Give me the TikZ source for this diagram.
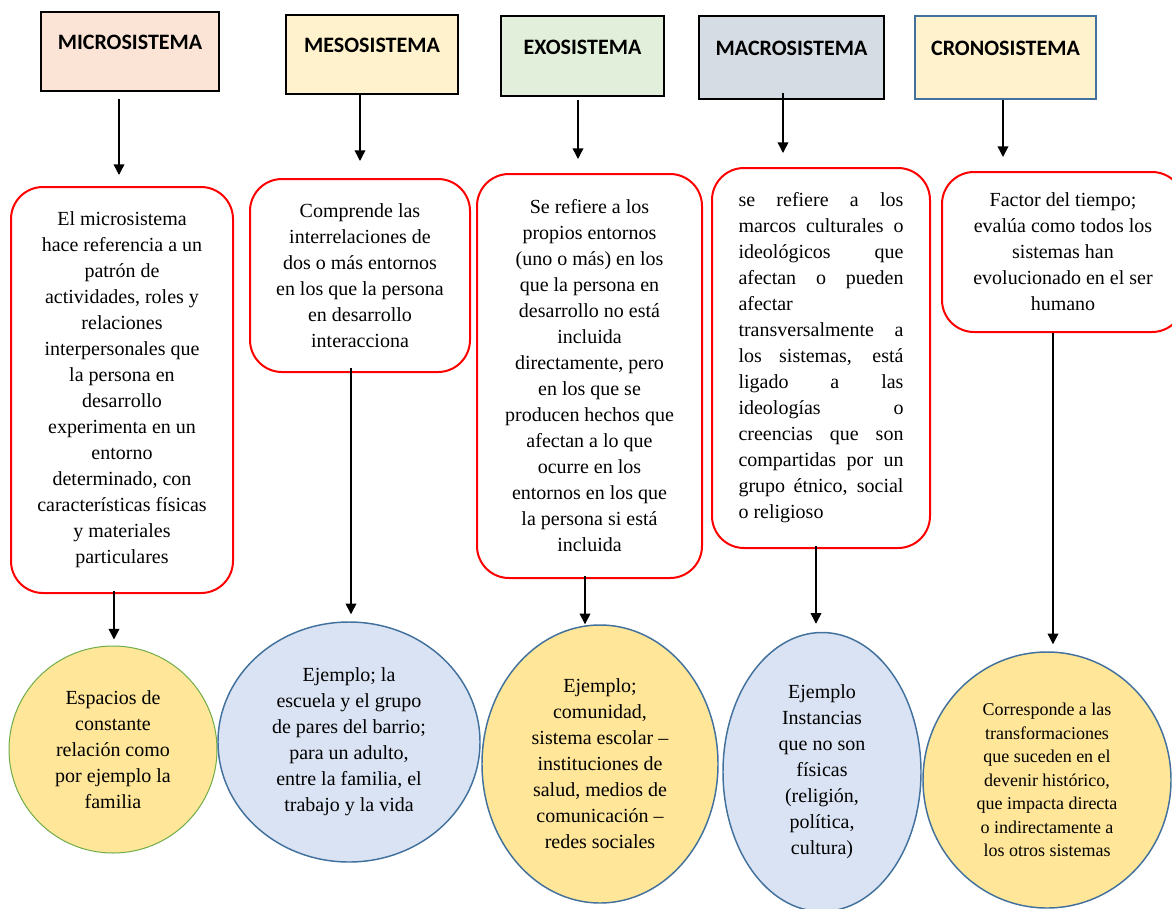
\documentclass[tikz,border=0pt]{standalone}
\usepackage{fontspec}
\setmainfont{Liberation Serif}
\newfontfamily\hdrfont{Carlito}
\usetikzlibrary{arrows.meta,shapes.geometric}
\definecolor{cmicro}{HTML}{FBE4D5}
\definecolor{cmeso}{HTML}{FFF2CC}
\definecolor{cexo}{HTML}{E2EFDA}
\definecolor{cmacro}{HTML}{D6DCE4}
\definecolor{ccrono}{HTML}{FFF2CC}
\definecolor{bluebd}{HTML}{41719C}
\definecolor{greenbd}{HTML}{70AD47}
\definecolor{yel}{HTML}{FFE699}
\definecolor{lblue}{HTML}{DAE3F3}
\newlength\jw
\setlength\jw{123.75pt}
\newcommand\jl[1]{\makebox[\jw][s]{#1}}
\begin{document}
\begin{tikzpicture}[x=0.75pt,y=-0.75pt,
  hdr/.style={draw=black, line width=1.5pt, rectangle, inner sep=0pt,
    font=\hdrfont\bfseries\fontsize{16.5}{20}\selectfont,
    text height=10.5pt, text depth=13pt},
  desc/.style={draw=red, line width=1.5pt, rounded corners=24pt, fill=white,
    inner sep=0pt, align=center, font=\fontsize{15}{19.5}\selectfont},
  ex/.style={ellipse, draw=bluebd, line width=1.1pt, inner sep=0pt,
    align=center, font=\fontsize{15}{19.5}\selectfont},
  arr/.style={-{Triangle[width=8pt,length=8pt]}, line width=1.1pt}]
\clip (0,0) rectangle (1172,908);
\fill[white] (0,0) rectangle (1172,908);

% header boxes
\node[hdr, fill=cmicro, minimum width=133.5pt, minimum height=59.25pt] (h1) at (130,51.5) {MICROSISTEMA};
\node[hdr, fill=cmeso, minimum width=129pt, minimum height=59.25pt] (h2) at (372,54.5) {MESOSISTEMA};
\node[hdr, fill=cexo, minimum width=122.25pt, minimum height=60pt] (h3) at (582.5,56) {EXOSISTEMA};
\node[hdr, fill=cmacro, minimum width=138.75pt, minimum height=62.25pt] (h4) at (791.5,57.5) {MACROSISTEMA};
\node[hdr, fill=ccrono, draw=bluebd, minimum width=135.75pt, minimum height=62.25pt] (h5) at (1005.5,57.5) {CRONOSISTEMA};

% description boxes
\node[desc, minimum width=166.5pt, minimum height=304.5pt] (b1) at (122,390)
  {El microsistema\\ hace referencia a un\\ patrón de\\ actividades, roles y\\ relaciones\\ interpersonales que\\ la persona en\\ desarrollo\\ experimenta en un\\ entorno\\ determinado, con\\ características físicas\\ y materiales\\ particulares};
\node[desc, minimum width=165pt, minimum height=144.75pt] (b2) at (360,275.5)
  {Comprende las\\ interrelaciones de\\ dos o más entornos\\ en los que la persona\\ en desarrollo\\ interacciona};
\node[desc, minimum width=168.75pt, minimum height=303pt] (b3) at (589.5,376)
  {Se refiere a los\\ propios entornos\\ (uno o más) en los\\ que la persona en\\ desarrollo no está\\ incluida\\ directamente, pero\\ en los que se\\ producen hechos que\\ afectan a lo que\\ ocurre en los\\ entornos en los que\\ la persona si está\\ incluida};
\node[desc, align=left, minimum width=163.5pt, minimum height=285pt] (b4) at (821,358)
  {\jl{se refiere a los}\\ \jl{marcos culturales o}\\ \jl{ideológicos que}\\ \jl{afectan o pueden}\\ afectar\\ \jl{transversalmente a}\\ \jl{los sistemas, está}\\ \jl{ligado a las}\\ \jl{ideologías o}\\ \jl{creencias que son}\\ \jl{compartidas por un}\\ \jl{grupo étnico, social}\\ o religioso};
\node[desc, minimum width=181.5pt, minimum height=120pt] (b5) at (1063,252)
  {Factor del tiempo;\\ evalúa como todos los\\ sistemas han\\ evolucionado en el ser\\ humano};

% example ellipses
\node[ex, fill=yel, draw=greenbd, line width=0.75pt, minimum width=156pt, minimum height=155.25pt] (e1) at (113,749.5)
  {Espacios de\\ constante\\ relación como\\ por ejemplo la\\ familia};
\node[ex, fill=lblue, minimum width=196.5pt, minimum height=180pt] (e2) at (349,742)
  {Ejemplo; la\\ escuela y el grupo\\ de pares del barrio;\\ para un adulto,\\ entre la familia, el\\ trabajo y la vida};
\node[ex, fill=yel, minimum width=177pt, minimum height=208.5pt] (e3) at (600,764)
  {Ejemplo;\\ comunidad,\\ sistema escolar –\\ instituciones de\\ salud, medios de\\ comunicación –\\ redes sociales};
\node[ex, fill=lblue, minimum width=148.5pt, minimum height=209.25pt] (e4) at (822,772)
  {Ejemplo\\ Instancias\\ que no son\\ físicas\\ (religión,\\ política,\\ cultura)};
\node[ex, fill=yel, minimum width=186pt, minimum height=192pt, font=\fontsize{13.5}{17.6}\selectfont] (e5) at (1047,780)
  {Corresponde a las\\ transformaciones\\ que suceden en el\\ devenir histórico,\\ que impacta directa\\ o indirectamente a\\ los otros sistemas};

% arrow x positions
\coordinate (x1) at (119,0);
\coordinate (x2) at (360,0);
\coordinate (x3) at (578,0);
\coordinate (x4) at (783,0);
\coordinate (x5) at (1003,0);
\coordinate (y1) at (114,0);
\coordinate (y2) at (351,0);
\coordinate (y3) at (585,0);
\coordinate (y4) at (816,0);
\coordinate (y5) at (1053,0);

% connectors
\draw[arr, shorten <=5.25pt, shorten >=8.25pt] (h1.south -| x1) -- (b1.north -| x1);
\draw[arr, shorten >=12.75pt] (h2.south -| x2) -- (b2.north -| x2);
\draw[arr, shorten <=2.25pt, shorten >=10.5pt] (h3.south -| x3) -- (b3.north -| x3);
\draw[arr, shorten <=-5.25pt, shorten >=10.5pt] (h4.south -| x4) -- (b4.north -| x4);
\draw[arr, shorten >=10.5pt] (h5.south -| x5) -- (b5.north -| x5);
\draw[arr, shorten <=-2.25pt, shorten >=4.5pt] (b1.south -| y1) -- (e1.north -| y1);
\draw[arr, shorten <=-3.75pt, shorten >=5.25pt] (b2.south -| y2) -- (e2.north -| y2);
\draw[arr, shorten <=-2.25pt] (b3.south -| y3) -- (e3.north -| y3);
\draw[arr, shorten <=-2.25pt, shorten >=6pt] (b4.south -| y4) -- (e4.north -| y4);
\draw[arr, shorten >=5.25pt] (b5.south -| y5) -- (e5.north -| y5);
\end{tikzpicture}
\end{document}
